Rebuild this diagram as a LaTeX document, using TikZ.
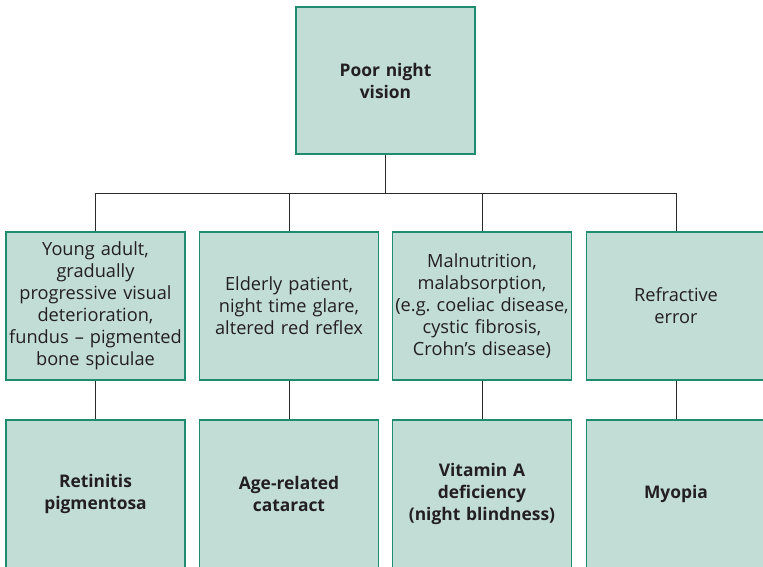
\documentclass[tikz,border=0pt]{standalone}
\usepackage{fontspec}
\setmainfont{Open Sans}
\frenchspacing
\definecolor{boxfill}{HTML}{C2DDD6}
\definecolor{boxline}{HTML}{1E8C6E}
\definecolor{conn}{HTML}{2A2A2A}
\definecolor{txt}{HTML}{231F20}
\begin{document}
\begin{tikzpicture}[x=1pt,y=-1pt,
  box/.style={draw=boxline, line width=1.3pt, fill=boxfill, minimum width=179pt, minimum height=148pt,
    inner sep=0pt, text width=177pt, align=center, text=txt, font=\fontsize{18.2}{22}\selectfont},
  boldbox/.style={box, font=\fontsize{17.4}{22}\selectfont\bfseries},
  link/.style={draw=conn, line width=1pt}]
\useasboundingbox (0,0) rectangle (763,566);
\clip (0,0) rectangle (763,566);
\node[boldbox, minimum height=147pt] (top) at (385.5,80.5) {Poor night\\vision};
\node[box] (a1) at (95.5,306) {Young adult,\\gradually\\progressive visual\\deterioration,\\fundus -- pigmented\\bone spiculae};
\node[box] (a2) at (289,306) {Elderly patient,\\night time glare,\\altered red reflex};
\node[box] (a3) at (482,306) {Malnutrition,\\malabsorption,\\(e.g. coeliac disease,\\cystic fibrosis,\\Crohn’s disease)};
\node[box] (a4) at (676,306) {Refractive\\error};
\node[boldbox] (b1) at (95.5,494) {Retinitis\\pigmentosa};
\node[boldbox] (b2) at (289,494) {Age-related\\cataract};
\node[boldbox] (b3) at (482,494) {Vitamin A\\deficiency\\(night blindness)};
\node[boldbox] (b4) at (676,494) {Myopia};
\coordinate (jn) at (385.5,193);
\draw[link] (top.south) -- (jn);
\draw[link] (a1.north) -- (a1.north |- jn) -- (a4.north |- jn) -- (a4.north);
\draw[link] (a2.north |- jn) -- (a2.north);
\draw[link] (a3.north |- jn) -- (a3.north);
\draw[link] (a1) -- (b1);
\draw[link] (a2) -- (b2);
\draw[link] (a3) -- (b3);
\draw[link] (a4) -- (b4);
\end{tikzpicture}
\end{document}
